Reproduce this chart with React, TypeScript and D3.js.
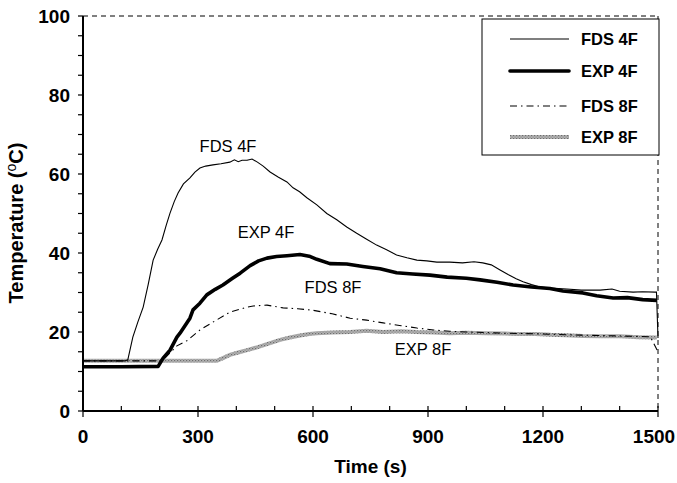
import React from "react";
import * as d3 from "d3";

const fds4fT = [0, 110, 117, 130, 143, 157, 170, 183, 195, 206, 217, 227, 238, 248, 262, 279, 292, 305, 320, 339, 360, 383, 395, 405, 415, 428, 441, 455, 470, 488, 510, 532, 548, 565, 584, 610, 636, 662, 688, 714, 740, 766, 792, 818, 845, 871, 897, 923, 957, 990, 1020, 1043, 1065, 1088, 1110, 1130, 1148, 1170, 1192, 1220, 1262, 1300, 1349, 1380, 1400, 1435, 1460, 1492, 1496, 1500];
const fds4fV = [12.7, 12.7, 13, 18.7, 22.5, 26.3, 32, 38.2, 41, 43.3, 47, 50.1, 53, 55.2, 57.5, 59, 60.5, 61.5, 62, 62.3, 62.6, 63, 63.6, 63.1, 63.5, 63.5, 63.8, 63, 62, 60.5, 59.2, 58, 56.5, 55.5, 54, 52.2, 50, 48.4, 46.6, 45, 43.5, 42, 40.8, 39.5, 38.8, 38.2, 38, 37.7, 37.7, 37.5, 37.8, 37.5, 37, 35.7, 34.5, 33.5, 32.7, 32, 31.4, 31.1, 30.9, 30.6, 30.6, 30.9, 30.3, 30.1, 30.2, 30.1, 30.1, 18.5];

const exp4fT = [0, 100, 196, 209, 227, 245, 253, 279, 287, 305, 323, 345, 365, 390, 410, 436, 458, 480, 505, 532, 566, 590, 610, 644, 688, 730, 775, 818, 860, 905, 950, 1000, 1036, 1080, 1122, 1170, 1218, 1252, 1304, 1340, 1383, 1420, 1460, 1497];
const exp4fV = [11.2, 11.2, 11.3, 13.4, 15.4, 18.7, 19.7, 23.5, 25.6, 27.3, 29.4, 30.8, 31.9, 33.6, 34.9, 36.8, 38, 38.7, 39.1, 39.3, 39.6, 39.2, 38.4, 37.3, 37.2, 36.6, 36, 35, 34.7, 34.4, 33.9, 33.6, 33.2, 32.6, 31.9, 31.4, 31, 30.4, 29.9, 29.2, 28.6, 28.7, 28.2, 28];

const fds8fT = [0, 200, 215, 230, 245, 271, 305, 339, 383, 428, 444, 480, 522, 560, 600, 650, 697, 740, 783, 830, 871, 915, 957, 1000, 1100, 1200, 1300, 1400, 1480, 1500];
const fds8fV = [12.7, 12.7, 13.5, 15, 16.5, 17.8, 20.5, 22.5, 25, 26.3, 26.6, 26.8, 26.1, 25.9, 25.5, 24.6, 23.5, 23, 22.3, 21.6, 21, 20.5, 20.2, 20, 19.7, 19.5, 19.2, 19, 18.8, 15];

const exp8fT = [0, 349, 365, 383, 405, 428, 450, 470, 492, 514, 540, 566, 590, 610, 650, 697, 740, 783, 830, 870, 915, 957, 1000, 1050, 1100, 1132, 1180, 1220, 1260, 1304, 1350, 1400, 1450, 1497];
const exp8fV = [12.7, 12.7, 13.4, 14.2, 14.8, 15.4, 16, 16.6, 17.3, 18, 18.6, 19.1, 19.5, 19.7, 19.9, 20, 20.3, 20, 20.2, 20, 19.9, 19.7, 19.8, 19.7, 19.6, 19.5, 19.5, 19.3, 19.2, 19, 18.9, 18.9, 18.7, 18.6];

const xTickLabels = [0, 300, 600, 900, 1200, 1500];
const yTickLabels = [0, 20, 40, 60, 80, 100];
const legendNames = ["FDS 4F", "EXP 4F", "FDS 8F", "EXP 8F"];

const FONT = "'Liberation Sans', Arial, Helvetica, sans-serif";

export default function App() {
  const x = d3.scaleLinear().domain([0, 1500]).range([83, 658]);
  const y = d3.scaleLinear().domain([0, 100]).range([411, 16]);
  const line = d3
    .line<[number, number]>()
    .x((d) => x(d[0]))
    .y((d) => y(d[1]));
  const mk = (t: number[], v: number[]) => line(t.map((tt, i) => [tt, v[i]] as [number, number])) || "";

  const xMinor = d3.range(0, 1501, 100);
  const yMinor = d3.range(0, 101, 5);

  const styles = [
    { stroke: "#000", width: 1.1, dash: undefined as string | undefined },
    { stroke: "#000", width: 3.6, dash: undefined },
    { stroke: "#000", width: 1.1, dash: "7,4,1.5,4" },
    { stroke: "url(#hatch)", width: 4, dash: undefined },
  ];
  const legendY = [39, 71, 106, 137];

  return (
    <svg width={677} height={483} style={{ position: "absolute", left: 0, top: 0, background: "#fff" }}>
      <defs>
        <pattern id="hatch" width="3" height="3" patternUnits="userSpaceOnUse">
          <rect width="3" height="3" fill="#b4b4b4" />
          <rect width="1.2" height="1.2" fill="#6e6e6e" />
          <rect x="1.5" y="1.5" width="1.2" height="1.2" fill="#8a8a8a" />
        </pattern>
      </defs>
      {/* dashed top and right frame */}
      <line x1={x(0)} x2={x(1500)} y1={y(100)} y2={y(100)} stroke="#000" strokeWidth={1} strokeDasharray="5,4" />
      <line x1={x(1500)} x2={x(1500)} y1={y(100)} y2={y(0)} stroke="#000" strokeWidth={1} strokeDasharray="5,4" />

      {/* series */}
      <path d={mk(exp8fT, exp8fV)} fill="none" stroke="url(#hatch)" strokeWidth={4} />
      <path d={mk(fds8fT, fds8fV)} fill="none" stroke="#000" strokeWidth={1.1} strokeDasharray="7,4,1.5,4" />
      <path d={mk(fds4fT, fds4fV)} fill="none" stroke="#000" strokeWidth={1.1} />
      <path d={mk(exp4fT, exp4fV)} fill="none" stroke="#000" strokeWidth={3.6} strokeLinejoin="round" />

      {/* axes */}
      <line x1={x(0)} x2={x(0)} y1={y(0)} y2={y(100)} stroke="#000" strokeWidth={2} />
      <line x1={x(0)} x2={x(1500)} y1={y(0)} y2={y(0)} stroke="#000" strokeWidth={2} />
      {yMinor.map((v) => (
        <line key={"yt" + v} x1={x(0) - 5} x2={x(0)} y1={y(v)} y2={y(v)} stroke="#000" strokeWidth={1.2} />
      ))}
      {xMinor.map((v) => {
        const major = v % 300 === 0;
        return (
          <line key={"xt" + v} x1={x(v)} x2={x(v)} y1={y(0) - 5} y2={major ? y(0) + 6 : y(0)} stroke="#000" strokeWidth={1.2} />
        );
      })}
      {yTickLabels.map((v) => (
        <text key={"yl" + v} x={x(0) - 13} y={y(v)} dy="0.36em" textAnchor="end" fontFamily={FONT} fontWeight="bold" fontSize={19}>
          {v}
        </text>
      ))}
      {xTickLabels.map((v) => (
        <text key={"xl" + v} x={Math.min(x(v), 654)} y={y(0) + 32} textAnchor="middle" fontFamily={FONT} fontWeight="bold" fontSize={19}>
          {v}
        </text>
      ))}
      <text x={(x(0) + x(1500)) / 2} y={473} textAnchor="middle" fontFamily={FONT} fontWeight="bold" fontSize={19}>
        Time (s)
      </text>
      <text transform={`translate(23,223) rotate(-90)`} textAnchor="middle" fontFamily={FONT} fontWeight="bold" fontSize={20}>
        Temperature (<tspan dy="-7" fontSize={14} fontWeight="normal">o</tspan><tspan dy="7">C)</tspan>
      </text>

      {/* annotations */}
      <text x={228} y={152} textAnchor="middle" fontFamily={FONT} fontSize={16.5}>FDS 4F</text>
      <text x={266} y={238} textAnchor="middle" fontFamily={FONT} fontSize={16.5}>EXP 4F</text>
      <text x={333} y={293} textAnchor="middle" fontFamily={FONT} fontSize={16.5}>FDS 8F</text>
      <text x={423} y={355} textAnchor="middle" fontFamily={FONT} fontSize={16.5}>EXP 8F</text>

      {/* legend */}
      <rect x={482} y={19} width={177} height={136} fill="#fff" stroke="#000" strokeWidth={1} />
      {legendNames.map((n, i) => (
        <g key={n}>
          <line x1={510} x2={569} y1={legendY[i]} y2={legendY[i]} stroke={styles[i].stroke} strokeWidth={styles[i].width} strokeDasharray={styles[i].dash} strokeLinecap={i === 1 ? "round" : "butt"} />
          <text x={581} y={legendY[i]} dy="0.36em" fontFamily={FONT} fontWeight="bold" fontSize={16.5}>
            {n}
          </text>
        </g>
      ))}
    </svg>
  );
}
